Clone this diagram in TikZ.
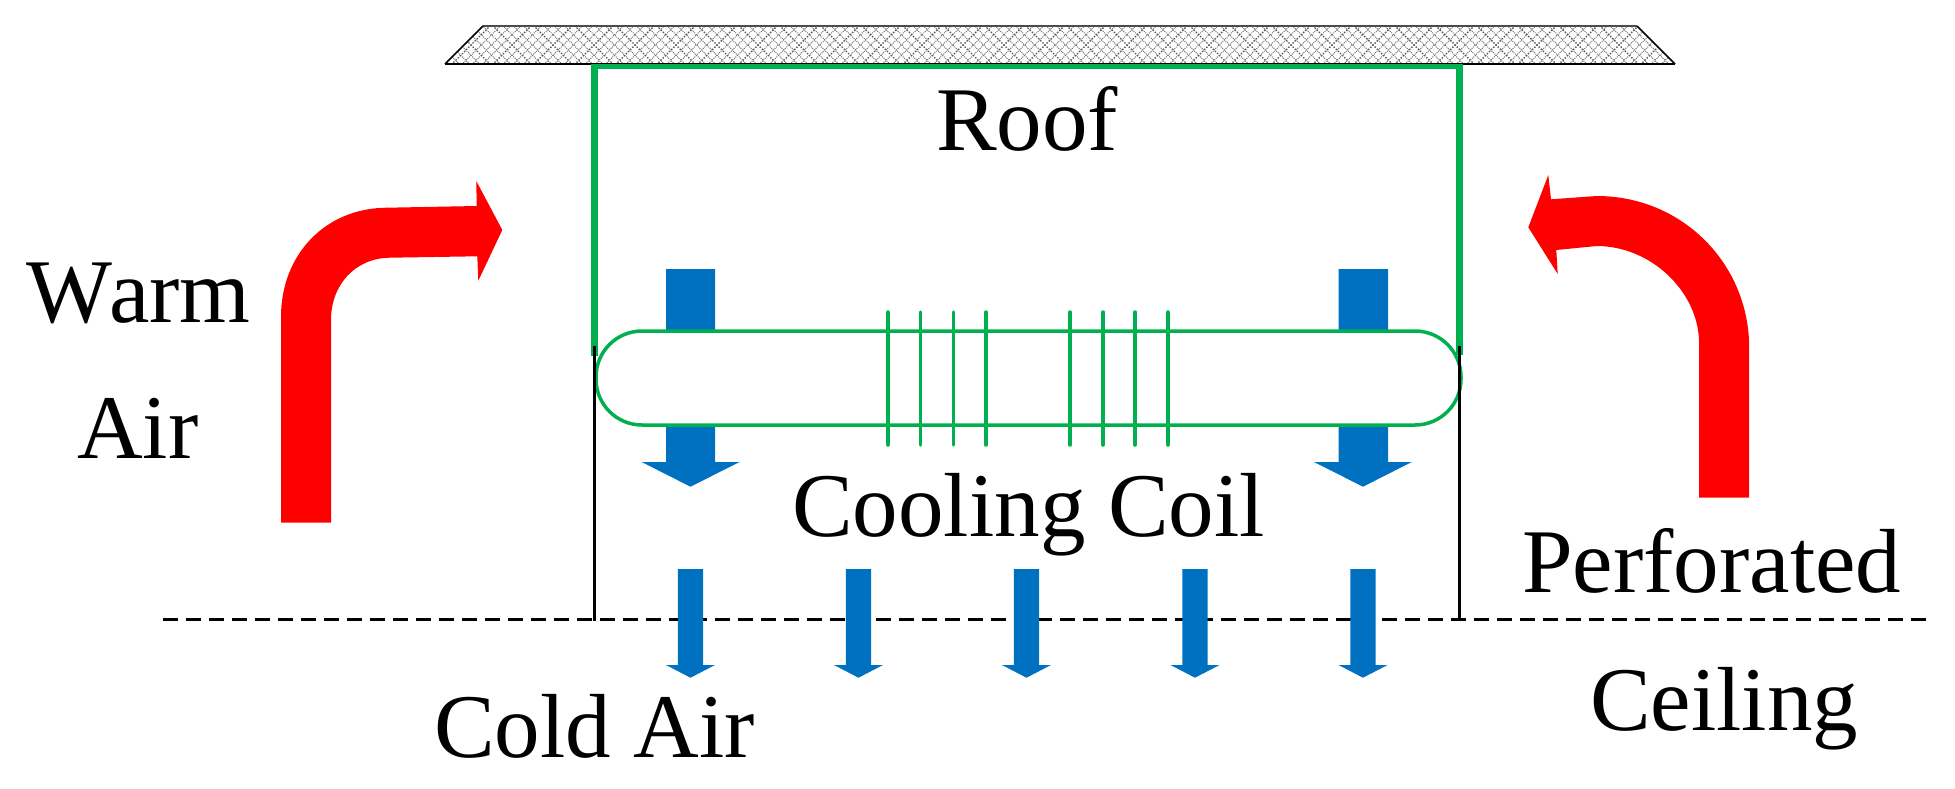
\documentclass[tikz,border=0pt]{standalone}
\usepackage{fontspec}
\setmainfont[Kerning=Off]{Liberation Serif}
\definecolor{cgreen}{RGB}{0,176,80}
\definecolor{cblue}{RGB}{0,112,192}
\tikzset{
  lbl/.style={font=\fontsize{91}{100}\selectfont,inner sep=0pt,anchor=base west},
  bluearrow/.style={fill=cblue,draw=none},
  redarrow/.style={fill=red,draw=none},
  fin/.style={cgreen,line width=3.5pt,line cap=round},
  hatch/.style={gray!85!black,line width=1pt,dash pattern=on 1pt off 1pt},
  hatchmain/.style={gray!70!black,line width=1.4pt,dash pattern=on 1.5pt off 1.5pt}
}
\begin{document}
\begin{tikzpicture}[x=1pt,y=-1pt]
\useasboundingbox (0,0) rectangle (1955,788);
% roof
\begin{scope}
\clip (445,64) -- (483,26) -- (1637,26) -- (1675,64) -- cycle;
\foreach \k in {0,...,33}{
  \pgfmathsetmacro{\ca}{344+41*\k}
  \pgfmathsetmacro{\cb}{364+41*\k}
  \draw[hatchmain] (\ca,0) -- (\ca+70,70);
  \draw[hatchmain] (\cb+70,0) -- (\cb,70);
  \foreach \d in {10.25,20.5,30.75}{
    \draw[hatch] (\ca+\d,0) -- (\ca+\d+70,70);
    \draw[hatch] (\cb+\d+70,0) -- (\cb+\d,70);
  }
}
\end{scope}
\draw[gray!60!black,line width=1.6pt] (483,26) -- (1637,26);
\draw[black,line width=1.6pt] (445,64) -- (483,26);
\draw[black,line width=1.6pt] (1637,26) -- (1675,64);
\draw[black,line width=1.6pt] (445,64) -- (1675,64);
% blue top arrows
\path[bluearrow] (666,269) -- (715,269) -- (715,462) -- (739.5,462) -- (690.5,486.7) -- (641.7,462) -- (666,462) -- cycle;
\path[bluearrow] (1338.7,269) -- (1388,269) -- (1388,462) -- (1411.7,462) -- (1363,486.7) -- (1314,462) -- (1338.7,462) -- cycle;
% dashed line
\draw[black,line width=3.5pt,dash pattern=on 15pt off 8pt] (163,619.3) -- (1932,619.3);
% frame
\draw[cgreen,line width=7pt] (594.5,356) -- (594.5,64);
\draw[cgreen,line width=7pt] (1459,355) -- (1459,64);
\draw[cgreen,line width=5pt] (591,66.5) -- (1462.5,66.5);
% coil
\draw[cgreen,line width=3.5pt,fill=white,rounded corners=46pt] (596,331) rectangle (1461,425);
% housing
\draw[black,line width=3pt] (594.5,346) -- (594.5,621);
\draw[black,line width=3pt] (1459,346) -- (1459,621);
\foreach \x in {888,920.7,953.3,986,1070,1103,1135,1168}{
  \draw[fin] (\x,312) -- (\x,445);
}
% small arrows
\foreach \x in {690.5,858.5,1026.5,1195,1363}{
  \path[bluearrow] (\x-12.7,569) -- (\x+12.7,569) -- (\x+12.7,665) -- (\x+24.5,665) -- (\x,677.7) -- (\x-24.5,665) -- (\x-12.7,665) -- cycle;
}
% red arrows
\path[redarrow] (281,522.7) -- (281,316.7) .. controls (281,255) and (325,208) .. (386.7,207.7) -- (476.7,206) -- (476.3,181) -- (502.3,230) -- (478.3,280.7) -- (477.3,256.3) -- (390,257.7) .. controls (355,258) and (331,285) .. (331,320) -- (331,522.7) -- cycle;
\path[redarrow] (1749,497.7) -- (1749,340) .. controls (1745,260) and (1680,196) .. (1596.7,196) -- (1551,199.3) -- (1548.3,175) -- (1528.3,227.3) -- (1557.7,274) -- (1556.3,250) -- (1596.7,246) .. controls (1650,246) and (1697,290) .. (1699,340) -- (1699,497.7) -- cycle;
% labels
\node[lbl] (roof) at (936,150) {Roof};
\node[lbl] (warm) at (26,322) {W\kern-3pt arm};
\node[lbl] (air) at (77,458) {Air};
\node[lbl] (coil) at (792,536) {Cooling Coil};
\node[lbl] (perf) at (1522,592) {Perforated};
\node[lbl] (ceil) at (1590,730) {Ceiling};
\node[lbl] (cold) at (434,757) {Cold Air};
\end{tikzpicture}
\end{document}
